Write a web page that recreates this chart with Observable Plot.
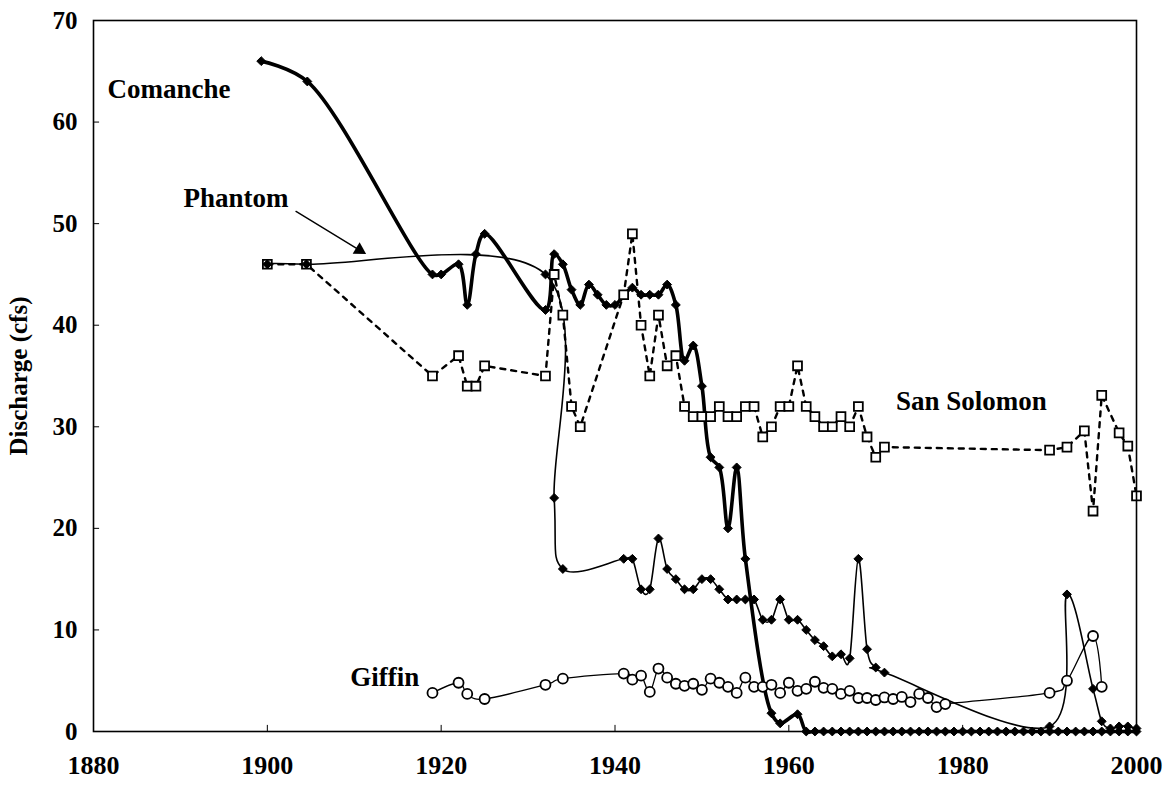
<!DOCTYPE html>
<html><head><meta charset="utf-8">
<script src="https://cdn.jsdelivr.net/npm/d3@7"></script>
<script src="https://cdn.jsdelivr.net/npm/@observablehq/plot@0.6"></script>
<style>
html,body{margin:0;padding:0;background:#fff;}
#chart svg{display:block;}
</style></head><body><div id="chart"></div>
<script>
// ---- data (discharge, cfs) ----
const comancheYears  = [1899.3,1904.6,1919,1920,1922,1923,1924,1925,1932,1933,1934,1935,1936,1937,1938,1939,1940,1942,1943,1944,1945,1946,1947,1948,1949,1950,1951,1952,1953,1954,1955,1958,1959,1961,1962,1963,1964,1965,1966,1967,1968,1969,1970,1971,1972,1973,1974,1975,1976,1977,1978,1979,1980,1981,1982,1983,1984,1985,1986,1987,1988,1989,1990,1991,1992,1993,1994,1995,1996,1997,1998,1999,2000];
const comancheValues = [66,64,45,45,46,42,47,49,41.5,47,46,43.5,42,44,43,42,42,43.7,43,43,43,44,42,36.5,38,34,27,26,20,26,17,1.8,0.8,1.7,0,0,0,0,0,0,0,0,0,0,0,0,0,0,0,0,0,0,0,0,0,0,0,0,0,0,0,0,0,0,0,0,0,0,0,0,0,0,0];

const phantomYears  = [1900,1904.5,1932,1933,1934,1941,1942,1943,1944,1945,1946,1947,1948,1949,1950,1951,1952,1953,1954,1955,1956,1957,1958,1959,1960,1961,1962,1963,1964,1965,1966,1967,1968,1969,1970,1971,1990,1992,1995,1996,1997,1998,1999,2000];
const phantomValues = [46,46,45,23,16,17,17,14,14,19,16,15,14,14,15,15,14,13,13,13,13,11,11,13,11,11,10,9,8.4,7.4,7.6,7.2,17,8.1,6.3,5.8,0.5,13.5,4.2,1.0,0.3,0.5,0.5,0.3];

const sanSolomonYears  = [1900,1904.5,1919,1922,1923,1924,1925,1932,1933,1934,1935,1936,1941,1942,1943,1944,1945,1946,1947,1948,1949,1950,1951,1952,1953,1954,1955,1956,1957,1958,1959,1960,1961,1962,1963,1964,1965,1966,1967,1968,1969,1970,1971,1990,1992,1994,1995,1996,1998,1999,2000];
const sanSolomonValues = [46,46,35,37,34,34,36,35,45,41,32,30,43,49,40,35,41,36,37,32,31,31,31,32,31,31,32,32,29,30,32,32,36,32,31,30,30,31,30,32,29,27,28,27.7,28,29.6,21.7,33.1,29.4,28.1,23.2];

const giffinYears  = [1919,1922,1923,1925,1932,1934,1941,1942,1943,1944,1945,1946,1947,1948,1949,1950,1951,1952,1953,1954,1955,1956,1957,1958,1959,1960,1961,1962,1963,1964,1965,1966,1967,1968,1969,1970,1971,1972,1973,1974,1975,1976,1977,1978,1990,1992,1995,1996];
const giffinValues = [3.8,4.8,3.7,3.2,4.6,5.2,5.7,5.1,5.5,3.9,6.2,5.3,4.7,4.5,4.7,4.1,5.2,4.8,4.4,3.8,5.3,4.4,4.4,4.6,3.8,4.8,4.0,4.2,4.9,4.3,4.2,3.7,4.0,3.3,3.3,3.1,3.35,3.2,3.4,2.9,3.7,3.3,2.4,2.7,3.8,5.0,9.4,4.4];

const xTicks = [1880,1900,1920,1940,1960,1980,2000];
const yTicks = [0,10,20,30,40,50,60,70];

const seriesLabels = ["Comanche","Phantom","San Solomon","Giffin"];
const labelYears   = [1888.7,1896.4,1981,1913.5];
const labelValues  = [63.2,52.5,32.5,5.3];

const arrowFrom = [1903.3,51.2];
const arrowTo   = [1910.6,47.4];

const yTitle = "Discharge (cfs)";

// ---- tables ----
const toRows = (xs, ys) => xs.map((x, i) => ({year: x, q: ys[i]}));
const comanche = toRows(comancheYears, comancheValues);
const phantom = toRows(phantomYears, phantomValues);
const sanSolomon = toRows(sanSolomonYears, sanSolomonValues);
const giffin = toRows(giffinYears, giffinValues);
const labels = seriesLabels.map((t, i) => ({t, year: labelYears[i], q: labelValues[i]}));
const arrows = [{x1: arrowFrom[0], y1: arrowFrom[1], x2: arrowTo[0], y2: arrowTo[1]}];

const FONT = "'Liberation Serif','Times New Roman',Times,serif";

const chart = Plot.plot({
  width: 1166,
  height: 787,
  marginLeft: 93,
  marginRight: 30,
  marginTop: 20,
  marginBottom: 56,
  style: {fontFamily: FONT, fontWeight: "bold", background: "#fff", color: "#000"},
  x: {domain: [1880, 2000], ticks: xTicks, tickFormat: d => String(d)},
  y: {domain: [0, 70], ticks: yTicks},
  marks: [
    // inward tick marks
    Plot.ruleY(yTicks.filter(v => v > 0 && v < 70), {y: d => d, x1: 1880, x2: 1880.7, stroke: "#000", strokeWidth: 1}),
    Plot.ruleX(xTicks.filter(v => v > 1880 && v < 2000), {x: d => d, y1: 0, y2: 0.6, stroke: "#000", strokeWidth: 1}),
    Plot.axisX({ticks: xTicks, tickSize: 0, tickPadding: 24, fontSize: 26, fontWeight: "bold", label: null, tickFormat: d => String(d)}),
    Plot.axisY({ticks: yTicks, tickSize: 0, tickPadding: 16, fontSize: 25, fontWeight: "bold", label: null}),
    Plot.text([yTitle], {text: d => d, frameAnchor: "left", textAnchor: "middle", dx: -75, rotate: -90, fontSize: 25, fontWeight: "bold", fill: "#000"}),

    // lines
    Plot.line(sanSolomon, {x: "year", y: "q", stroke: "#000", strokeWidth: 2.4, strokeDasharray: "5,6"}),
    Plot.line(giffin, {x: "year", y: "q", stroke: "#000", strokeWidth: 1.3, curve: "cardinal"}),
    Plot.line(phantom, {x: "year", y: "q", stroke: "#000", strokeWidth: 1.6, curve: "cardinal"}),
    Plot.line(comanche, {x: "year", y: "q", stroke: "#000", strokeWidth: 3.6, curve: "catmull-rom"}),

    // markers
    Plot.dot(sanSolomon, {x: "year", y: "q", symbol: "square", r: 5, fill: "#fff", stroke: "#000", strokeWidth: 1.8}),
    Plot.dot(giffin, {x: "year", y: "q", symbol: "circle", r: 5, fill: "#fff", stroke: "#000", strokeWidth: 1.8}),
    Plot.dot(phantom, {x: "year", y: "q", symbol: "diamond2", r: 4, fill: "#000", stroke: "#000", strokeWidth: 1}),
    Plot.dot(comanche, {x: "year", y: "q", symbol: "diamond2", r: 4, fill: "#000", stroke: "#000", strokeWidth: 1}),

    // annotations
    Plot.text(labels, {x: "year", y: "q", text: "t", fontSize: 27, fontWeight: "bold", fill: "#000"}),
    Plot.arrow(arrows, {x1: "x1", y1: "y1", x2: "x2", y2: "y2", stroke: "#000", strokeWidth: 1.4, headLength: 0}),
    Plot.dot(arrows, {x: "x2", y: "y2", symbol: "triangle", r: 5, fill: "#000", stroke: "none", rotate: 121}),

    Plot.frame({stroke: "#000", strokeWidth: 1.6})
  ]
});
document.getElementById("chart").appendChild(chart);
</script>
</body></html>
